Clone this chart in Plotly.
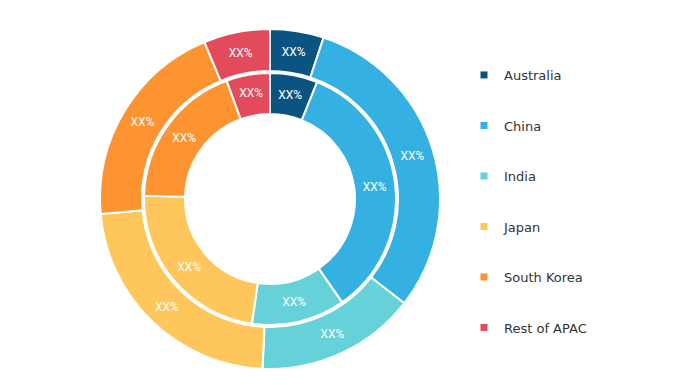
import plotly.graph_objects as go

countries = ["Australia", "China", "India", "Japan", "South Korea", "Rest of APAC"]
outer_values = [5.1, 30.4, 15.2, 22.9, 20.1, 6.3]
inner_values = [6.1, 34.2, 12.0, 23.1, 19.0, 5.6]
slice_text = ["XX%"] * 6
colors = ["#0b5482", "#35b0e2", "#65d1d9", "#fec65b", "#fd9431", "#e34a5c"]

W, H = 673, 385
OFF = 8  # page body margin

def dx(a, b):
    return [(a - OFF) / W, (b - OFF) / W]

def dy(top, bottom):
    return [(H - (bottom - OFF)) / H, (H - (top - OFF)) / H]

fig = go.Figure()

fig.add_trace(go.Pie(
    labels=countries, values=outer_values, text=slice_text,
    textinfo="text", textposition="inside", insidetextorientation="horizontal",
    hole=128/170, sort=False, direction="clockwise", rotation=0,
    marker=dict(colors=colors, line=dict(color="white", width=2)),
    textfont=dict(color="white", size=12, family="Roboto"),
    domain=dict(x=dx(100, 440), y=dy(29, 369)),
    showlegend=False,
))

fig.add_trace(go.Pie(
    labels=countries, values=inner_values, text=slice_text,
    textinfo="text", textposition="inside", insidetextorientation="horizontal",
    hole=85/126, sort=False, direction="clockwise", rotation=0,
    marker=dict(colors=colors, line=dict(color="white", width=2)),
    textfont=dict(color="white", size=12, family="Roboto"),
    domain=dict(x=dx(144, 396), y=dy(73, 325)),
    showlegend=False,
))

for name, c in zip(countries, colors):
    fig.add_trace(go.Scatter(
        x=[None], y=[None], mode="markers", name=name, legendgroup=name,
        marker=dict(symbol="square", size=7, color=c),
    ))

fig.update_layout(
    width=W, height=H,
    margin=dict(l=0, r=0, t=0, b=0),
    paper_bgcolor="white", plot_bgcolor="white",
    xaxis=dict(visible=False), yaxis=dict(visible=False),
    legend=dict(x=(464 - OFF)/W, y=1-52/H, xanchor="left", yanchor="top",
                font=dict(family="DejaVu Sans", size=13, color="#333333"),
                tracegroupgap=30.6, itemwidth=30),
    font=dict(family="Roboto"),
)

fig.write_html("out.html")
